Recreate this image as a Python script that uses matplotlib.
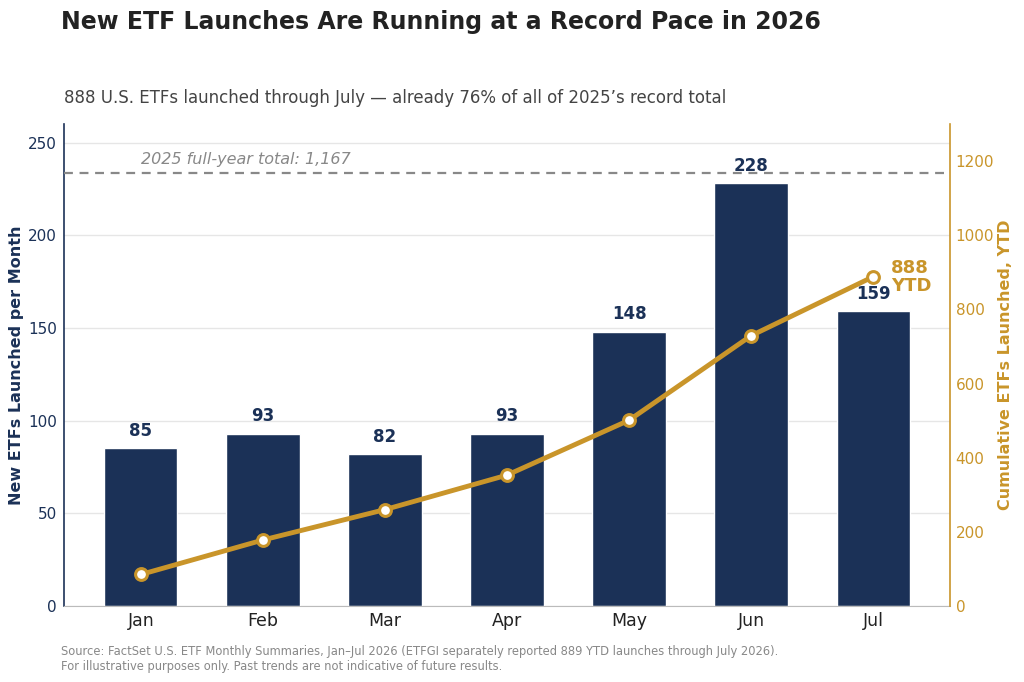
import numpy as np
from matplotlib import pyplot as plt

months = ['Jan', 'Feb', 'Mar', 'Apr', 'May', 'Jun', 'Jul']
launches = [85, 93, 82, 93, 148, 228, 159]
cumulative = [85, 178, 260, 353, 501, 729, 888]
total_2025 = 1167

navy = '#1b3157'
gold = '#c9952a'

fig = plt.figure(figsize=(10.24, 6.82), dpi=100)
ax = fig.add_axes([64/1024, 1 - 606/682, (950-64)/1024, (606-124)/682])
ax2 = ax.twinx()

x = np.arange(len(months))
ax.bar(x, launches, width=0.6, color=navy, edgecolor='white', linewidth=1, zorder=2)
for xi, v in zip(x, launches):
    ax.annotate(str(v), (xi, v), xytext=(0, 6), textcoords='offset points',
                ha='center', va='bottom', fontsize=12, fontweight='bold', color=navy)

ax.set_xlim(-0.63, len(months) - 1 + 0.63)
ax.set_ylim(0, 260)
ax.set_yticks([0, 50, 100, 150, 200, 250])
ax.set_xticks(x)
ax.set_xticklabels(months, fontsize=12.5, color='#222222')
ax.tick_params(axis='y', colors=navy, labelsize=11, length=0, pad=5)
ax.tick_params(axis='x', length=0, pad=4)
ax.grid(axis='y', color='#e6e6e6', linewidth=1, zorder=0)
ax.set_axisbelow(True)
ax.set_ylabel('New ETFs Launched per Month', fontsize=11.5, fontweight='bold',
              color=navy, labelpad=3)

ax2.plot(x, cumulative, color=gold, linewidth=3.5, marker='o', markersize=8.5,
         markerfacecolor='white', markeredgecolor=gold, markeredgewidth=2.2, zorder=3)
ax2.set_ylim(0, 1300)
ax2.set_yticks([0, 200, 400, 600, 800, 1000, 1200])
ax2.tick_params(axis='y', colors=gold, labelsize=11, length=0, pad=4)
ax2.set_ylabel('Cumulative ETFs Launched, YTD', fontsize=11.5, fontweight='bold',
               color=gold, labelpad=3)
ax2.annotate('%d\nYTD' % cumulative[-1], (x[-1], cumulative[-1]), xytext=(13, 0),
             textcoords='offset points', ha='left', va='center', fontsize=13,
             fontweight='bold', color=gold, linespacing=1.0)

ax2.axhline(total_2025, color='#888888', linestyle='--', linewidth=1.6, dashes=(4, 3), zorder=1)
ax2.text(0, total_2025 + 16, '2025 full-year total: 1,167', fontsize=11.5, style='italic',
         color='#888888', ha='left', va='bottom')

for a in (ax, ax2):
    a.spines['top'].set_visible(False)
ax.spines['left'].set_color(navy)
ax.spines['left'].set_linewidth(1.2)
ax.spines['right'].set_visible(False)
ax2.spines['left'].set_visible(False)
ax2.spines['right'].set_color(gold)
ax2.spines['right'].set_linewidth(1.2)
ax.spines['bottom'].set_color('#bbbbbb')
ax2.spines['bottom'].set_visible(False)

fig.text(61/1024, 1 - 22/682, 'New ETF Launches Are Running at a Record Pace in 2026',
         fontsize=17, fontweight='bold', color='#222222', va='center')
fig.text(64/1024, 1 - 98/682, '888 U.S. ETFs launched through July \u2014 already 76% of all of 2025\u2019s record total',
         fontsize=12, color='#444444', va='center')
fig.text(61/1024, 1 - 659/682,
         'Source: FactSet U.S. ETF Monthly Summaries, Jan\u2013Jul 2026 (ETFGI separately reported 889 YTD launches through July 2026).\n'
         'For illustrative purposes only. Past trends are not indicative of future results.',
         fontsize=8.3, color='#888888', va='center', linespacing=1.15)

plt.savefig('out.png', dpi=100)
